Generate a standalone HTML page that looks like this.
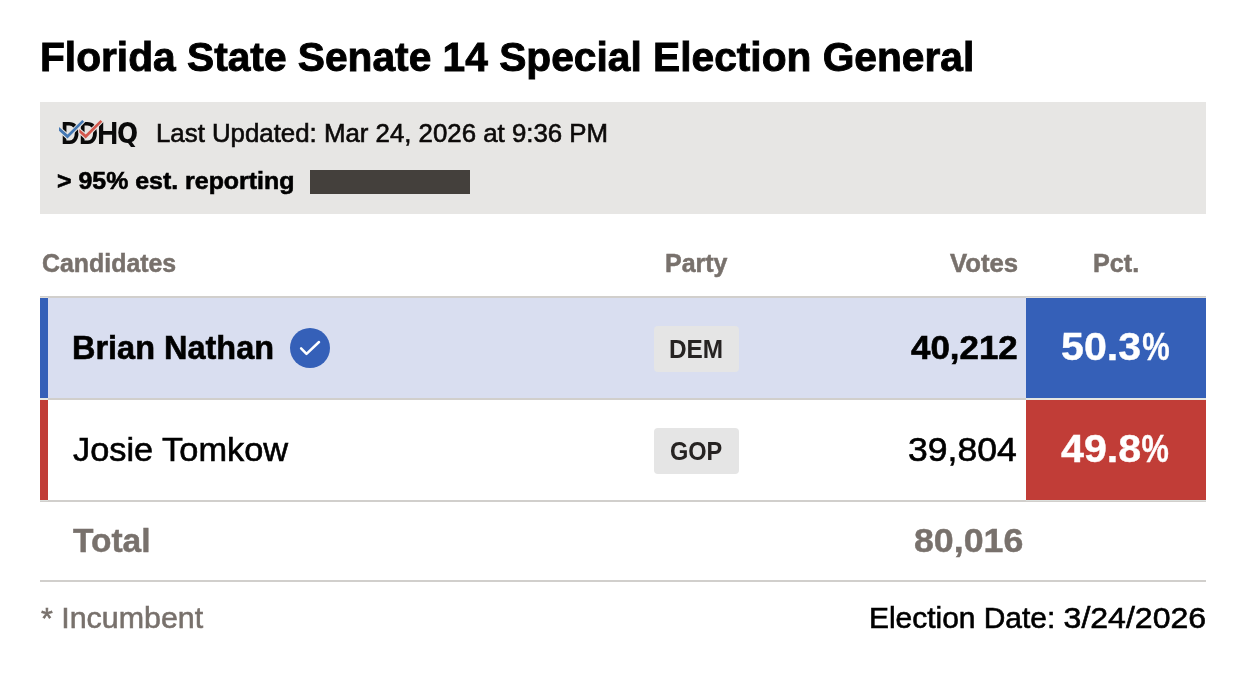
<!DOCTYPE html>
<html lang="en">
<head>
<meta charset="utf-8">
<title>Florida State Senate 14 Special Election General</title>
<style>
*{box-sizing:border-box;margin:0;padding:0}
html,body{width:1234px;height:696px;background:#fff;overflow:hidden}
body{font-family:"Liberation Sans",Arial,sans-serif;color:#000;position:relative}
.t{position:absolute;white-space:nowrap;line-height:1;transform-origin:0 0;display:block}
.tl{display:inline-block;transform-origin:0 0}
.box{position:absolute}
#info{left:40px;top:102px;width:1166px;height:112px;background:#e7e6e4}
#bar{left:310px;top:170px;width:160px;height:24px;background:#44403c}
#bt{left:40px;top:296px;width:1166px;height:2px;background:#d1cfcc}
#r1{left:40px;top:298px;width:1166px;height:100px;background:#d9def0}
#r1b{left:40px;top:298px;width:8px;height:100px;background:#3560b8}
#r1p{left:1026px;top:298px;width:180px;height:100px;background:#3560b8}
#bm{left:40px;top:398px;width:1166px;height:2px;background:#d1cfcc}
#bml{left:40px;top:398px;width:8px;height:2px;background:#e8e9e4}
#btl{left:40px;top:297px;width:8px;height:1px;background:#e3dfd8}
#btr{left:1026px;top:297px;width:180px;height:1px;background:#e3dfd8}
#bbl{left:40px;top:500px;width:8px;height:1px;background:#dce0dd}
#bbr{left:1026px;top:500px;width:180px;height:1px;background:#dce0dd}
#bmr{left:1026px;top:398px;width:180px;height:2px;background:#e5e6e1}
#r2b{left:40px;top:400px;width:8px;height:100px;background:#c13d37}
#r2p{left:1026px;top:400px;width:180px;height:100px;background:#c13d37}
#bb{left:40px;top:500px;width:1166px;height:2px;background:#d1cfcc}
#line{left:40px;top:580px;width:1166px;height:2px;background:#d1cfcc}
.badge{position:absolute;left:654px;width:85px;height:46px;border-radius:4px;background:#e5e5e5}
#b1{top:326px}
#b2{top:428px}
#chk{left:290px;top:328px;width:40px;height:40px}
#lgw{left:0;top:0;width:0;height:0}
#logo{left:50px;top:110px;width:100px;height:44px}
</style>
</head>
<body>

<div class="box" id="info"></div>

<div class="box" id="lgw">
<span class="t" id="lg1" style="left:60.50px;top:118.59px;font-size:30.96px;font-weight:700;color:#0a0a0a;transform:scaleX(0.8344)">D</span><span class="t" id="lg2" style="left:78.59px;top:118.59px;font-size:30.96px;font-weight:700;color:#0a0a0a;transform:scaleX(0.8528)">D</span><span class="t" id="lg3" style="left:96.55px;top:118.59px;font-size:30.96px;font-weight:700;color:#0a0a0a;transform:scaleX(0.9526)">H</span><span class="t" id="lg4" style="left:116.69px;top:118.57px;font-size:29.22px;font-weight:700;color:#0a0a0a;transform:scaleX(0.9435);font-family:'DejaVu Sans Condensed','DejaVu Sans',sans-serif">Q</span>
</div>
<svg class="box" id="logo" viewBox="50 110 100 44">
<path d="M79.3 128.95 L85.7 134.6 L100.5 120.1 L102.3 121.7 L85.7 138.5 L79.3 132.6 Z" fill="#d3584d" stroke="#e7e6e4" stroke-width="2" paint-order="stroke" stroke-linejoin="miter"/>
<path d="M59 127.1 L67.5 134.6 L82.3 120.1 L84.1 121.7 L67.5 138.5 L59 130.7 Z" fill="#4478b4" stroke="#e7e6e4" stroke-width="2" paint-order="stroke" stroke-linejoin="miter"/>
</svg>
<div class="box" id="bar"></div>
<div class="box" id="bt"></div>
<div class="box" id="r1"></div>
<div class="box" id="r1b"></div>
<div class="box" id="r1p"></div>
<div class="box" id="bm"></div>
<div class="box" id="bml"></div>
<div class="box" id="bmr"></div>
<div class="box" id="r2b"></div>
<div class="box" id="r2p"></div>
<div class="box" id="bb"></div>
<div class="box" id="btl"></div>
<div class="box" id="btr"></div>
<div class="box" id="bbl"></div>
<div class="box" id="bbr"></div>
<div class="box" id="line"></div>
<div class="badge" id="b1"></div>
<div class="badge" id="b2"></div>
<svg class="box" id="chk" viewBox="0 0 40 40"><circle cx="20" cy="20" r="20" fill="#3560b8"/><path d="M11.1 20.4 L16.5 25.9 L29 14" fill="none" stroke="#fff" stroke-width="2.5" stroke-linecap="round" stroke-linejoin="round"/></svg>

<div class="t" id="title" style="left:39.53px;top:36.63px;font-size:41.42px;font-weight:700;color:#000;transform:scaleX(0.9830);-webkit-text-stroke:0.90px">Florida State Senate 14 Special Election General</div>
<div class="t" id="upd" style="left:155.56px;top:120.99px;font-size:25.29px;font-weight:400;color:#0c0a09;transform:scaleX(1.0212);-webkit-text-stroke:0.60px">Last Updated: Mar 24, 2026 at 9:36 PM</div>
<div class="t" id="rep" style="left:56.73px;top:168.91px;font-size:24.56px;font-weight:700;color:#000;transform:scaleX(1.0149);-webkit-text-stroke:0.60px">&gt; 95% est. reporting</div>
<div class="t" id="hc" style="left:41.61px;top:250.51px;font-size:25.15px;font-weight:700;color:#78716c;transform:scaleX(0.9904);-webkit-text-stroke:0.50px">Candidates</div>
<div class="t" id="hp" style="left:664.74px;top:250.51px;font-size:25.15px;font-weight:700;color:#78716c;transform:scaleX(0.9936);-webkit-text-stroke:0.50px">Party</div>
<div class="t" id="hv" style="left:949.61px;top:250.51px;font-size:25.15px;font-weight:700;color:#78716c;transform:scaleX(1.0231);-webkit-text-stroke:0.50px">Votes</div>
<div class="t" id="hpc" style="left:1092.63px;top:250.51px;font-size:25.15px;font-weight:700;color:#78716c;transform:scaleX(1.0012);-webkit-text-stroke:0.50px">Pct.</div>
<div class="t" id="n1" style="left:71.59px;top:330.52px;font-size:33.28px;font-weight:700;color:#000;transform:scaleX(0.9759);-webkit-text-stroke:0.60px">Brian Nathan</div>
<div class="t" id="d1" style="left:668.60px;top:336.90px;font-size:25.87px;font-weight:700;color:#262322;transform:scaleX(0.9419)">DEM</div>
<div class="t" id="v1" style="left:910.69px;top:330.52px;font-size:33.28px;font-weight:700;color:#000;transform:scaleX(1.0492);-webkit-text-stroke:0.60px">40,212</div>
<div class="t" id="p1" style="left:1060.51px;top:327.73px;font-size:38.95px;font-weight:700;color:#fff;transform:scaleX(1.0566);-webkit-text-stroke:0.40px">50.3<span class="tl" style="margin-left:0.86px;transform:scaleX(0.7496)">%</span></div>
<div class="t" id="n2" style="left:72.52px;top:432.52px;font-size:33.28px;font-weight:400;color:#000;transform:scaleX(1.0326);-webkit-text-stroke:0.60px">Josie Tomkow</div>
<div class="t" id="d2" style="left:669.61px;top:438.90px;font-size:25.87px;font-weight:700;color:#262322;transform:scaleX(0.9099)">GOP</div>
<div class="t" id="v2" style="left:907.50px;top:432.52px;font-size:33.28px;font-weight:400;color:#000;transform:scaleX(1.0682);-webkit-text-stroke:0.60px">39,804</div>
<div class="t" id="p2" style="left:1060.57px;top:429.73px;font-size:38.95px;font-weight:700;color:#fff;transform:scaleX(1.0589);-webkit-text-stroke:0.40px">49.8<span class="tl" style="margin-left:0.55px;transform:scaleX(0.7461)">%</span></div>
<div class="t" id="tot" style="left:72.56px;top:523.84px;font-size:33.50px;font-weight:700;color:#78716c;transform:scaleX(0.9999);-webkit-text-stroke:0.45px">Total</div>
<div class="t" id="totv" style="left:913.67px;top:523.84px;font-size:33.50px;font-weight:700;color:#78716c;transform:scaleX(1.0665);-webkit-text-stroke:0.45px">80,016</div>
<div class="t" id="inc" style="left:40.62px;top:602.61px;font-size:29.29px;font-weight:400;color:#78716c;transform:scaleX(1.0379);-webkit-text-stroke:0.55px">* Incumbent</div>
<div class="t" id="ed" style="left:868.53px;top:603.67px;font-size:29.22px;font-weight:400;color:#000;transform:scaleX(1.0240);-webkit-text-stroke:0.60px">Election Date: <span class="tl" style="margin-left:-0.36px;transform:scaleX(1.0711)">3/24/2026</span></div>
</body>
</html>
